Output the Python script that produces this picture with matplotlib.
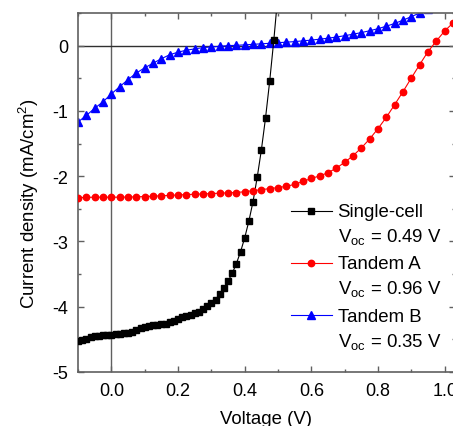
import numpy as np
import matplotlib
matplotlib.use("Agg")
import matplotlib.pyplot as plt
from matplotlib.ticker import MultipleLocator, FormatStrFormatter

plt.rcParams["font.family"] = ["Liberation Sans", "DejaVu Sans"]
plt.rcParams["mathtext.fontset"] = "custom"
plt.rcParams["mathtext.rm"] = "Liberation Sans"
plt.rcParams["mathtext.it"] = "Liberation Sans:italic"
plt.rcParams["axes.unicode_minus"] = False

# J-V sweeps (voltage in V, current density in mA/cm^2)
v_fine = [-0.1, -0.0875, -0.075, -0.0625, -0.05, -0.0375, -0.025, -0.0125,
          0.0, 0.0125, 0.025, 0.0375, 0.05, 0.0625, 0.075, 0.0875,
          0.1, 0.1125, 0.125, 0.1375, 0.15, 0.1625, 0.175, 0.1875,
          0.2, 0.2125, 0.225, 0.2375, 0.25, 0.2625, 0.275, 0.2875,
          0.3, 0.3125, 0.325, 0.3375, 0.35, 0.3625, 0.375, 0.3875,
          0.4, 0.4125, 0.425, 0.4375, 0.45, 0.4625, 0.475, 0.4875, 0.5]
j_single = [-4.53, -4.51, -4.49, -4.47, -4.455, -4.445, -4.44, -4.432,
            -4.426, -4.42, -4.415, -4.41, -4.40, -4.385, -4.36, -4.33,
            -4.305, -4.29, -4.28, -4.275, -4.272, -4.265, -4.24, -4.215,
            -4.19, -4.165, -4.14, -4.12, -4.10, -4.075, -4.04, -3.995,
            -3.945, -3.89, -3.81, -3.72, -3.61, -3.49, -3.34, -3.16,
            -2.945, -2.69, -2.39, -2.02, -1.60, -1.11, -0.545, 0.09, 0.80]

v_coarse = [-0.1, -0.075, -0.05, -0.025, 0.0, 0.025, 0.05, 0.075,
            0.1, 0.125, 0.15, 0.175, 0.2, 0.225, 0.25, 0.275,
            0.3, 0.325, 0.35, 0.375, 0.4, 0.425, 0.45, 0.475,
            0.5, 0.525, 0.55, 0.575, 0.6, 0.625, 0.65, 0.675,
            0.7, 0.725, 0.75, 0.775, 0.8, 0.825, 0.85, 0.875,
            0.9, 0.925, 0.95, 0.975, 1.0, 1.025]
j_tandem_a = [-2.33, -2.325, -2.322, -2.322, -2.322, -2.322, -2.32, -2.317,
              -2.312, -2.307, -2.30, -2.295, -2.288, -2.282, -2.277, -2.272,
              -2.266, -2.261, -2.255, -2.25, -2.238, -2.222, -2.207, -2.19,
              -2.175, -2.155, -2.125, -2.08, -2.035, -1.995, -1.947, -1.876,
              -1.788, -1.686, -1.567, -1.429, -1.271, -1.097, -0.903, -0.704,
              -0.495, -0.29, -0.091, 0.072, 0.225, 0.348]
j_tandem_b = [-1.17, -1.07, -0.96, -0.86, -0.74, -0.63, -0.52, -0.42,
              -0.34, -0.27, -0.20, -0.14, -0.10, -0.07, -0.05, -0.03,
              -0.02, -0.01, 0.0, 0.005, 0.012, 0.02, 0.028, 0.036,
              0.045, 0.053, 0.062, 0.073, 0.085, 0.099, 0.114, 0.132,
              0.152, 0.175, 0.20, 0.228, 0.26, 0.298, 0.34, 0.39,
              0.445, 0.50, 0.56]

labels = ["Single-cell", "Tandem A", "Tandem B"]
voc = [0.49, 0.96, 0.35]

fig = plt.figure(figsize=(4.53, 4.27), dpi=100)
ax = fig.add_axes([78 / 453, 54 / 427, 376.7 / 453, 359 / 427])

spine_col = "#606060"
ax.axvline(0, color=spine_col, lw=1.0, zorder=1)
ax.axhline(0, color="#303030", lw=1.0, zorder=1)

lb, = ax.plot(v_coarse[:len(j_tandem_b)], j_tandem_b, color="blue", lw=0.8,
              marker="^", ms=5.5, zorder=2)
ls, = ax.plot(v_fine, j_single, color="black", lw=0.8,
              marker="s", ms=4.0, zorder=3)
la, = ax.plot(v_coarse, j_tandem_a, color="red", lw=0.8,
              marker="o", ms=4.6, zorder=4)

ax.set_xlim(-0.1, 1.03)
ax.set_ylim(-5, 0.5)
ax.xaxis.set_major_locator(MultipleLocator(0.2))
ax.xaxis.set_minor_locator(MultipleLocator(0.1))
ax.yaxis.set_major_locator(MultipleLocator(1))
ax.yaxis.set_minor_locator(MultipleLocator(0.5))
ax.xaxis.set_major_formatter(FormatStrFormatter("%.1f"))
ax.tick_params(which="both", direction="in", top=True, right=True,
               colors=spine_col, labelcolor="black", labelsize=13, pad=7)
ax.tick_params(which="major", length=4.3, width=1.0)
ax.tick_params(which="minor", length=2.4, width=1.0)
for sp in ax.spines.values():
    sp.set_color(spine_col)
    sp.set_linewidth(1.2)

ax.set_xlabel("Voltage (V)", fontsize=13.4, labelpad=8)
ax.set_ylabel("Current density (mA/cm$^2$)", fontsize=13.4)
ax.yaxis.set_label_coords(-0.098, 0.471)

# two-line labels: name, then open-circuit voltage
texts = ["%s\nV$_{\\mathregular{oc}}$ = %.2f V" % (name, v)
         for name, v in zip(labels, voc)]
leg = fig.legend([ls, la, lb], texts, loc="upper left",
                 bbox_to_anchor=(291 / 453, 1 - 204 / 427), frameon=False,
                 fontsize=13.4, handlelength=2.2, handletextpad=0.3,
                 labelspacing=0.5, borderpad=0, borderaxespad=0)
for t in leg.get_texts():
    t.set_linespacing(1.4)
# lift each handle up to the first text line
for h in leg.legend_handles:
    h.set_ydata(np.asarray(h.get_ydata()) + 10)

fig.savefig("out.png", dpi=100)
